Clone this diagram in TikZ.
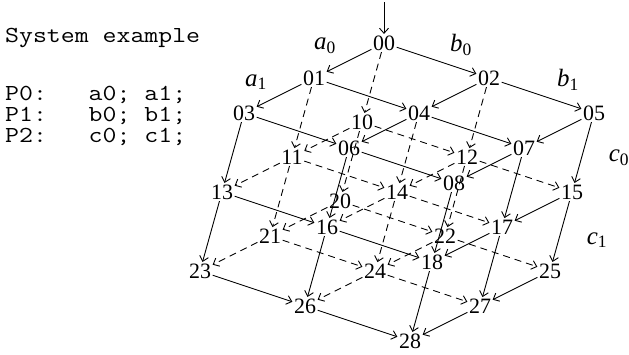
\documentclass[tikz,border=0pt]{standalone}
\usepackage{fontspec}
\setmainfont{Liberation Serif}
\usetikzlibrary{arrows.meta}
\newcommand{\statefont}{\fontsize{22}{24}\selectfont}
\newcommand{\codeline}[1]{\scalebox{1.18}[1]{\fontsize{23}{24}\selectfont\ttfamily #1}}
\newcommand{\eventlabel}[2]{\textit{#1}\textsubscript{#2}}

\begin{document}
\begin{tikzpicture}[x=1bp,y=-1bp,
  state/.style={inner sep=1.5bp,font=\statefont},
  seen/.style={line width=0.9bp,-{Straight Barb[length=5bp,width=9bp]}},
  edge1/.style={seen},
  edge0/.style={seen,dash pattern=on 7bp off 5bp},
  code/.style={anchor=base west,inner sep=0pt},
  evt/.style={inner sep=0pt,font=\fontsize{25}{26}\selectfont}]
  \useasboundingbox (0,0) rectangle (629,354);
  \node[code] (title) at (5,42) {\codeline{System example}};
  \node[code] (p0) at (5,100) {\codeline{P0:\ \ \ a0;\ a1;}};
  \node[code] (p1) at (5,121) {\codeline{P1:\ \ \ b0;\ b1;}};
  \node[code] (p2) at (5,142) {\codeline{P2:\ \ \ c0;\ c1;}};
  \foreach \k in {0,1,2}{
    \foreach \i/\j/\n in {0/0/0,1/0/1,0/1/2,2/0/3,1/1/4,0/2/5,2/1/6,1/2/7,2/2/8}{
      \node[state] (s\k\n) at ({384-70*\i+105*\j-22*\k},{43+35*\i+35*\j+79*\k}) {\k\n};
    }
  }
  \foreach \k in {0,1,2}{
    \foreach \p/\q/\f in {0/1/0,1/3/0,2/4/0,4/6/0,5/7/1,7/8/1,0/2/0,2/5/0,1/4/0,4/7/0,3/6/1,6/8/1}{
      \pgfmathtruncatemacro\vis{(\k==0)||(\f==1)}
      \draw[edge\vis] (s\k\p) -- (s\k\q);
    }
  }
  \foreach \k in {0,1}{
    \pgfmathtruncatemacro\m{\k+1}
    \foreach \n/\f in {0/0,1/0,2/0,3/1,4/0,5/1,6/1,7/1,8/1}{
      \draw[edge\f] (s\k\n) -- (s\m\n);
    }
  }
  \coordinate (init) at (384,2);
  \draw[seen] (init) -- (s00);
  \node[evt] (ea0) at (325,46) {\eventlabel{a}{0}};
  \node[evt] (ea1) at (256,82) {\eventlabel{a}{1}};
  \node[evt] (eb0) at (461,45) {\eventlabel{b}{0}};
  \node[evt] (eb1) at (568,80) {\eventlabel{b}{1}};
  \node[evt] (ec0) at (619,158) {\eventlabel{c}{0}};
  \node[evt] (ec1) at (597,240) {\eventlabel{c}{1}};
\end{tikzpicture}
\end{document}
